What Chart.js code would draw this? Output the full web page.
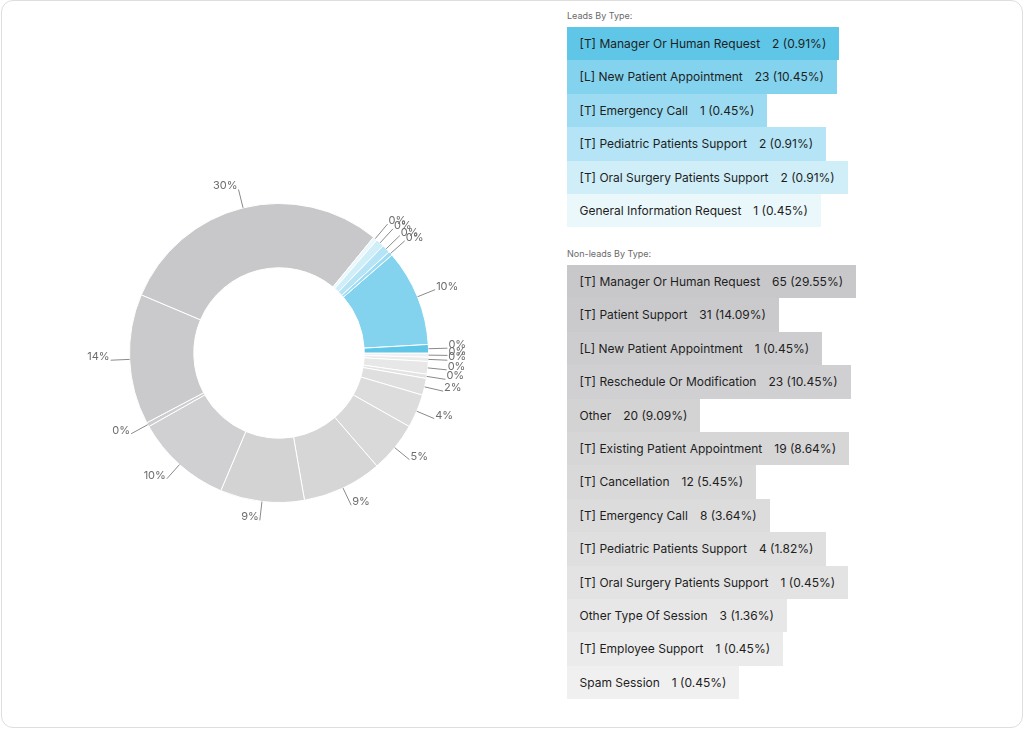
<!DOCTYPE html>
<html>
<head>
<meta charset="utf-8">
<title>Sessions by type</title>
<script src="https://cdn.jsdelivr.net/npm/chart.js@4.4.1/dist/chart.umd.min.js"></script>
<style>
    html, body { margin: 0; padding: 0; background: #fff; }
    body { width: 1024px; height: 729px; position: relative; overflow: hidden; font-family: Inter, "Noto Sans", sans-serif; }
    .frame { position: absolute; left: 1px; top: 0; right: 1px; bottom: 1px; border: 1px solid #dedede; border-radius: 12px; }
    #pieBox { position: absolute; left: 29px; top: 103px; width: 500px; height: 500px; }
    .group { position: absolute; left: 567px; }
    .title { font-size: 9px; color: #6a6a6a; height: 18px; line-height: 14px; }
    .row { height: 33.4px; line-height: 33.4px; padding: 0 13px 0 12.5px; font-size: 12px; color: #1e1e1e; width: max-content; white-space: nowrap; }
    .row .val { margin-left: 12px; }
</style>
</head>
<body>
<div class="frame"></div>
<div id="pieBox"><canvas id="chart"></canvas></div>
<div class="group" id="leads" style="top:9px"><div class="title">Leads By Type:</div></div>
<div class="group" id="nonLeads" style="top:247px"><div class="title">Non-leads By Type:</div></div>

<script>
//region data
const leadLabels = [
    '[T] Manager Or Human Request',
    '[L] New Patient Appointment',
    '[T] Emergency Call',
    '[T] Pediatric Patients Support',
    '[T] Oral Surgery Patients Support',
    'General Information Request'
];
const leadValues = [2, 23, 1, 2, 2, 1];
// percent labels as printed next to the slices
const leadPieText = ['0%', '10%', '0%', '0%', '0%', '0%'];

const nonLeadLabels = [
    '[T] Manager Or Human Request',
    '[T] Patient Support',
    '[L] New Patient Appointment',
    '[T] Reschedule Or Modification',
    'Other',
    '[T] Existing Patient Appointment',
    '[T] Cancellation',
    '[T] Emergency Call',
    '[T] Pediatric Patients Support',
    '[T] Oral Surgery Patients Support',
    'Other Type Of Session',
    '[T] Employee Support',
    'Spam Session'
];
const nonLeadValues = [65, 31, 1, 23, 20, 19, 12, 8, 4, 1, 3, 1, 1];
const nonLeadPieText = ['30%', '14%', '0%', '10%', '9%', '9%', '5%', '4%', '2%', '0%', '0%', '0%', '0%'];
//endregion

const leadColors = ['#5fc6e8', '#84d3ee', '#9cdbf1', '#b4e4f5', '#cfeef8', '#eaf7fb'];
const nonLeadColors = ['#c8c8ca', '#cacacc', '#cdcdcf', '#d0d0d2', '#d3d3d4', '#d6d6d7', '#d9d9da',
    '#dcdcdd', '#dfdfdf', '#e3e3e3', '#e7e7e7', '#ebebeb', '#f0f0f0'];

const total = leadValues.concat(nonLeadValues).reduce((a, b) => a + b, 0);

// legend rows on the right
const buildRows = (el, labels, values, colors) => {
    labels.forEach((label, i) => {
        let row = document.createElement('div');
        row.className = 'row';
        row.style.background = colors[i];
        let pct = (values[i] / total * 100).toFixed(2);
        row.innerHTML = label + '<span class="val">' + values[i] + ' (' + pct + '%)</span>';
        el.appendChild(row);
    });
};
buildRows(document.getElementById('leads'), leadLabels, leadValues, leadColors);
buildRows(document.getElementById('nonLeads'), nonLeadLabels, nonLeadValues, nonLeadColors);

// the doughnut runs counter-clockwise from 3 o'clock, so feed it reversed
const pieValues = leadValues.concat(nonLeadValues).reverse();
const pieColors = leadColors.concat(nonLeadColors).reverse();
const pieText = leadPieText.concat(nonLeadPieText).reverse();
const pieLabels = leadLabels.concat(nonLeadLabels).reverse();

const outsideLabels = {
    id: 'outsideLabels',
    afterDatasetsDraw(chart) {
        const ctx = chart.ctx;
        const meta = chart.getDatasetMeta(0);
        ctx.save();
        ctx.strokeStyle = '#8a8a8a';
        ctx.lineWidth = 1;
        ctx.fillStyle = '#6c6c6c';
        ctx.font = '11px Inter, "Noto Sans", sans-serif';
        ctx.textBaseline = 'alphabetic';
        meta.data.forEach((arc, i) => {
            const p = arc.getProps(['x', 'y', 'startAngle', 'endAngle', 'outerRadius'], true);
            const mid = (p.startAngle + p.endAngle) / 2;
            const cos = Math.cos(mid), sin = Math.sin(mid);
            const x1 = p.x + cos * p.outerRadius, y1 = p.y + sin * p.outerRadius;
            const x2 = p.x + cos * (p.outerRadius + 19), y2 = p.y + sin * (p.outerRadius + 19);
            ctx.beginPath();
            ctx.moveTo(x1, y1);
            ctx.lineTo(x2, y2);
            ctx.stroke();
            ctx.textAlign = cos >= 0 ? 'left' : 'right';
            ctx.fillText(pieText[i], x2 + (cos >= 0 ? 1 : -1), y2);
        });
        ctx.restore();
    }
};

const config = {
    type: 'doughnut',
    data: {
        labels: pieLabels,
        datasets: [{
            data: pieValues,
            backgroundColor: pieColors,
            borderColor: '#ffffff',
            borderWidth: 1,
            hoverOffset: 0
        }]
    },
    options: {
        responsive: true,
        maintainAspectRatio: false,
        animation: false,
        rotation: 90,
        cutout: '57%',
        layout: { padding: 100 },
        plugins: {
            legend: { display: false },
            tooltip: { enabled: false }
        }
    },
    plugins: [outsideLabels]
};

window.onload = () => {
    let ctx = document.getElementById('chart').getContext('2d');
    window.myPie = new Chart(ctx, config);
};
</script>
</body>
</html>
